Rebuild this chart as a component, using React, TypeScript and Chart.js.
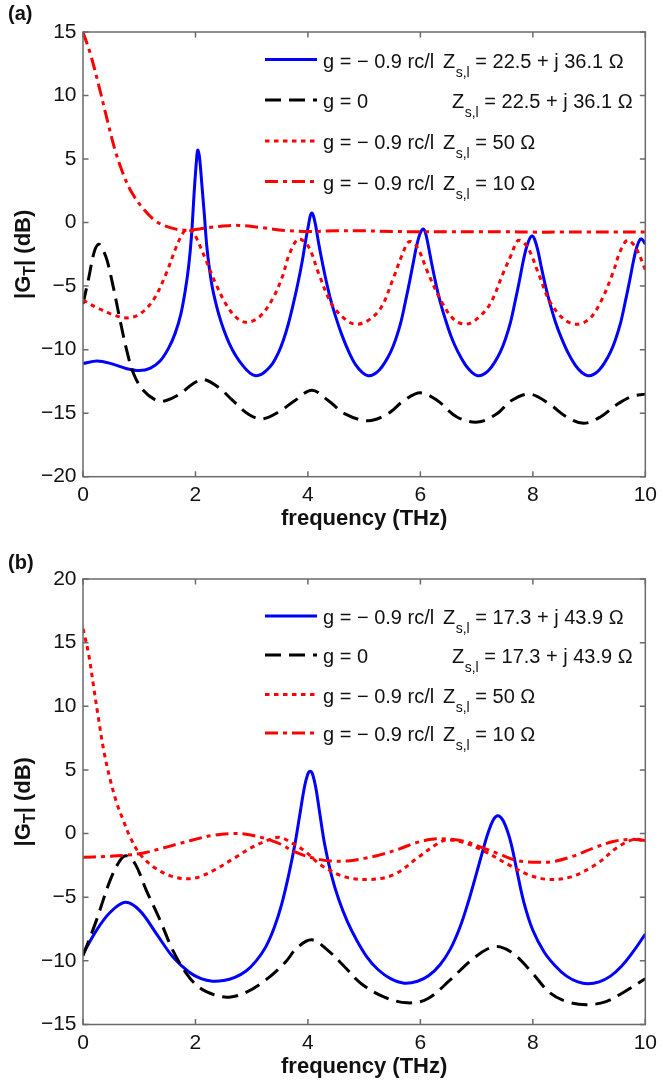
import React, { useEffect, useRef } from "react";
import { Chart, registerables } from "chart.js";

Chart.register(...registerables);

type Pt = [number, number];

// ---------- axis ticks ----------
const freqTicks = [0, 2, 4, 6, 8, 10];
const gainTicksA = [-20, -15, -10, -5, 0, 5, 10, 15];
const gainTicksB = [-15, -10, -5, 0, 5, 10, 15, 20];

// ---------- legend text ----------
const legendG = ["g = \u2212 0.9 rc/l", "g = 0", "g = \u2212 0.9 rc/l", "g = \u2212 0.9 rc/l"];
const legendZA = ["= 22.5 + j 36.1 \u03A9", "= 22.5 + j 36.1 \u03A9", "= 50 \u03A9", "= 10 \u03A9"];
const legendZB = ["= 17.3 + j 43.9 \u03A9", "= 17.3 + j 43.9 \u03A9", "= 50 \u03A9", "= 10 \u03A9"];

// ---------- panel (a) series : [frequency THz, |GT| dB] ----------
const blueA: Pt[] = [
  [0, -11.1], [0.25, -10.9], [0.5, -11.1], [0.78, -11.5], [1.0, -11.65], [1.2, -11.45], [1.37, -10.9],
  [1.52, -9.9], [1.64, -8.7], [1.74, -7.2], [1.82, -5.3], [1.88, -3.4], [1.93, -1.0], [1.98, 2.6],
  [2.02, 5.0], [2.04, 5.7], [2.07, 5.2], [2.11, 3.2], [2.16, 0.5], [2.2, -1.8], [2.25, -3.7], [2.3, -5.1],
  [2.36, -6.3], [2.42, -7.3], [2.5, -8.4], [2.6, -9.5], [2.72, -10.5], [2.85, -11.3], [2.97, -11.85],
  [3.07, -12.05], [3.17, -11.95], [3.27, -11.6], [3.37, -11.1], [3.47, -10.3], [3.56, -9.3], [3.65, -8.0],
  [3.74, -6.4], [3.83, -4.6], [3.9, -3.0], [3.96, -1.4], [4.01, -0.2], [4.04, 0.5], [4.07, 0.75],
  [4.1, 0.5], [4.14, -0.3], [4.19, -1.6], [4.25, -3.0], [4.32, -4.5], [4.4, -6.0], [4.5, -7.5],
  [4.6, -8.8], [4.72, -10.1], [4.85, -11.2], [4.97, -11.8], [5.07, -12.05], [5.17, -11.95], [5.27, -11.6],
  [5.37, -11.0], [5.47, -10.2], [5.56, -9.2], [5.65, -7.9], [5.73, -6.3], [5.81, -4.6], [5.88, -3.0],
  [5.94, -1.7], [6.0, -0.8], [6.05, -0.5], [6.09, -0.8], [6.14, -1.8], [6.2, -3.2], [6.27, -4.7],
  [6.35, -6.2], [6.45, -7.7], [6.55, -9.0], [6.67, -10.2], [6.8, -11.2], [6.92, -11.8], [7.02, -12.05],
  [7.12, -11.95], [7.22, -11.6], [7.32, -11.0], [7.42, -10.2], [7.51, -9.2], [7.6, -7.9], [7.68, -6.3],
  [7.76, -4.6], [7.83, -3.0], [7.89, -1.9], [7.95, -1.2], [7.99, -1.05], [8.03, -1.3], [8.09, -2.2],
  [8.15, -3.5], [8.22, -4.9], [8.3, -6.3], [8.4, -7.8], [8.5, -9.0], [8.62, -10.2], [8.75, -11.2],
  [8.87, -11.8], [8.98, -12.05], [9.08, -11.95], [9.18, -11.6], [9.28, -11.0], [9.38, -10.2], [9.47, -9.2],
  [9.56, -7.9], [9.64, -6.3], [9.72, -4.6], [9.79, -3.0], [9.85, -1.9], [9.91, -1.3], [9.95, -1.35],
  [10, -1.7],
];
const blackA: Pt[] = [
  [0, -6.4], [0.1, -4.4], [0.2, -2.3], [0.28, -1.7], [0.36, -2.2], [0.43, -3.0], [0.54, -5.1],
  [0.66, -7.7], [0.78, -10.1], [0.9, -11.9], [1.07, -13.2], [1.31, -14.0], [1.48, -14.0], [1.72, -13.5],
  [1.95, -12.7], [2.15, -12.35], [2.42, -13.0], [2.66, -14.0], [2.95, -15.1], [3.19, -15.45], [3.48, -14.9],
  [3.77, -14.0], [4.07, -13.2], [4.36, -14.0], [4.66, -15.05], [5.07, -15.6], [5.42, -15.05], [5.71, -14.0],
  [6.0, -13.4], [6.3, -14.0], [6.65, -15.3], [7.02, -15.7], [7.36, -15.05], [7.62, -14.0], [7.95, -13.5],
  [8.3, -14.3], [8.6, -15.3], [8.9, -15.8], [9.2, -15.3], [9.5, -14.3], [9.75, -13.7], [10, -13.5],
];
const dottedA: Pt[] = [
  [0, -6.1], [0.25, -6.7], [0.5, -7.2], [0.78, -7.5], [1.01, -7.2], [1.25, -6.1], [1.48, -4.0],
  [1.66, -1.9], [1.78, -0.8], [1.86, -0.55], [1.94, -0.7], [2.01, -1.15], [2.19, -3.0], [2.36, -4.8],
  [2.54, -6.4], [2.72, -7.45], [2.9, -7.85], [3.13, -7.45], [3.36, -6.1], [3.55, -4.2], [3.66, -2.6],
  [3.83, -1.3], [4.01, -1.9], [4.19, -4.0], [4.42, -6.4], [4.66, -7.6], [4.85, -8.0], [5.07, -7.7],
  [5.3, -6.7], [5.5, -4.6], [5.68, -2.5], [5.8, -1.5], [5.94, -1.9], [6.12, -3.8], [6.36, -6.1],
  [6.59, -7.6], [6.8, -8.0], [7.0, -7.6], [7.24, -6.4], [7.47, -4.0], [7.62, -2.5], [7.74, -1.4],
  [7.9, -1.9], [8.1, -4.0], [8.3, -6.2], [8.55, -7.6], [8.77, -8.0], [9.0, -7.6], [9.2, -6.3],
  [9.42, -4.0], [9.55, -2.3], [9.68, -1.4], [9.82, -1.9], [10, -3.7],
];
const dashDotA: Pt[] = [
  [0, 15], [0.13, 13.3], [0.28, 10.8], [0.43, 8.1], [0.57, 5.7], [0.7, 4.0], [0.85, 2.5], [1.05, 1.2],
  [1.3, 0.1], [1.55, -0.4], [1.8, -0.6], [2.07, -0.5], [2.42, -0.3], [2.78, -0.22], [3.13, -0.37],
  [3.6, -0.62], [4.0, -0.7], [4.5, -0.65], [5.0, -0.65], [5.5, -0.7], [6.0, -0.72], [6.5, -0.72],
  [7.0, -0.72], [7.5, -0.72], [8.0, -0.75], [8.5, -0.75], [9.0, -0.75], [9.5, -0.75], [10, -0.75],
];

// ---------- panel (b) series ----------
const blueB: Pt[] = [
  [0, -9.45], [0.24, -7.6], [0.48, -6.2], [0.75, -5.4], [1.01, -6.05], [1.31, -7.9], [1.6, -9.7],
  [1.89, -10.9], [2.1, -11.4], [2.3, -11.6], [2.5, -11.55], [2.7, -11.3], [2.9, -10.8], [3.08, -10.0],
  [3.25, -8.9], [3.4, -7.4], [3.53, -5.6], [3.66, -3.2], [3.77, -0.8], [3.86, 1.6], [3.94, 3.7],
  [4.0, 4.7], [4.04, 4.9], [4.08, 4.7], [4.14, 3.6], [4.21, 1.6], [4.3, -0.9], [4.42, -3.3],
  [4.55, -5.2], [4.7, -6.9], [4.87, -8.4], [5.05, -9.7], [5.25, -10.7], [5.47, -11.4], [5.71, -11.75],
  [5.95, -11.6], [6.15, -11.15], [6.35, -10.3], [6.53, -9.1], [6.7, -7.4], [6.85, -5.4], [6.98, -3.4],
  [7.1, -1.5], [7.2, 0.0], [7.3, 1.1], [7.38, 1.4], [7.46, 1.1], [7.54, 0.3], [7.62, -0.9],
  [7.72, -3.0], [7.84, -5.4], [8.0, -7.6], [8.2, -9.3], [8.4, -10.4], [8.6, -11.2], [8.8, -11.65],
  [8.98, -11.8], [9.18, -11.65], [9.38, -11.2], [9.58, -10.4], [9.78, -9.3], [10, -7.9],
];
const blackB: Pt[] = [
  [0, -9.6], [0.24, -6.8], [0.48, -3.7], [0.66, -2.1], [0.78, -1.75], [0.93, -2.4], [1.13, -4.5],
  [1.37, -6.8], [1.6, -9.2], [1.84, -11.0], [2.07, -12.1], [2.36, -12.7], [2.6, -12.85], [2.89, -12.5],
  [3.25, -11.5], [3.6, -10.1], [3.8, -9.0], [4.07, -8.35], [4.36, -9.2], [4.66, -10.5], [4.95, -11.8],
  [5.36, -12.85], [5.77, -13.3], [6.12, -13.0], [6.53, -11.5], [6.89, -10.0], [7.2, -9.05], [7.42, -8.9],
  [7.7, -9.6], [8.0, -11.0], [8.3, -12.5], [8.6, -13.2], [8.95, -13.45], [9.3, -13.2], [9.6, -12.5],
  [10, -11.4],
];
const dottedB: Pt[] = [
  [0, 16.1], [0.1, 14.1], [0.19, 11.5], [0.28, 8.9], [0.37, 6.5], [0.48, 4.3], [0.6, 2.4], [0.72, 1.0],
  [0.84, -0.3], [1.01, -1.6], [1.25, -2.6], [1.54, -3.3], [1.84, -3.55], [2.07, -3.4], [2.36, -2.8],
  [2.72, -1.85], [3.01, -1.07], [3.3, -0.5], [3.5, -0.3], [3.72, -0.75], [3.95, -1.4], [4.24, -2.5],
  [4.66, -3.4], [5.13, -3.6], [5.54, -3.2], [5.95, -1.9], [6.3, -0.8], [6.48, -0.5], [6.77, -0.7],
  [7.12, -1.35], [7.59, -2.5], [7.9, -3.2], [8.27, -3.6], [8.68, -3.4], [9.13, -2.4], [9.5, -1.1],
  [9.8, -0.45], [10, -0.6],
];
const dashDotB: Pt[] = [
  [0, -1.86], [0.4, -1.8], [0.78, -1.7], [1.1, -1.5], [1.37, -1.2], [1.7, -0.8], [1.95, -0.5],
  [2.3, -0.15], [2.65, 0.0], [2.9, -0.05], [3.25, -0.4], [3.5, -0.8], [3.75, -1.4], [4.07, -1.9],
  [4.4, -2.15], [4.7, -2.15], [5.0, -1.95], [5.3, -1.65], [5.63, -1.2], [5.9, -0.75], [6.2, -0.45],
  [6.45, -0.42], [6.77, -0.6], [7.1, -1.1], [7.4, -1.6], [7.7, -2.1], [8.0, -2.25], [8.35, -2.2],
  [8.7, -1.8], [9.1, -1.1], [9.45, -0.6], [9.75, -0.45], [10, -0.55],
];

// ---------- styles ----------
const STYLES = [
  { color: "#0000ff", dash: [] as number[] },
  { color: "#000000", dash: [16, 8] },
  { color: "#ff0000", dash: [4.5, 4.5] },
  { color: "#ff0000", dash: [13, 5, 4, 5] },
];

const FONT = "'Liberation Sans', Arial, Helvetica, sans-serif";
const W = 663;

type PanelProps = {
  top: number;
  height: number;
  label: string;
  labelBaseline: number;
  series: Pt[][];
  yMin: number;
  yMax: number;
  yTicks: number[];
  zText: string[];
  legendRows: number[];
  padTop: number;
  xAxisHeight: number;
};

function Panel(p: PanelProps) {
  const ref = useRef<HTMLCanvasElement>(null);

  useEffect(() => {
    const canvas = ref.current!;
    const decor = {
      id: "decor",
      afterDatasetsDraw(chart: any) {
        const { ctx, chartArea: a, scales } = chart;
        const xs = scales.x;
        const ys = scales.y;
        ctx.save();
        // frame + inward ticks
        ctx.setLineDash([]);
        ctx.strokeStyle = "#6b6b6b";
        ctx.lineWidth = 1.5;
        ctx.strokeRect(a.left, a.top, a.right - a.left, a.bottom - a.top);
        ctx.beginPath();
        for (const v of freqTicks) {
          const px = xs.getPixelForValue(v);
          ctx.moveTo(px, a.bottom);
          ctx.lineTo(px, a.bottom - 5.5);
          ctx.moveTo(px, a.top);
          ctx.lineTo(px, a.top + 5.5);
        }
        for (const v of p.yTicks) {
          const py = ys.getPixelForValue(v);
          ctx.moveTo(a.left, py);
          ctx.lineTo(a.left + 5.5, py);
          ctx.moveTo(a.right, py);
          ctx.lineTo(a.right - 5.5, py);
        }
        ctx.stroke();

        // legend
        ctx.textAlign = "left";
        ctx.textBaseline = "alphabetic";
        p.legendRows.forEach((ry, i) => {
          const st = STYLES[i];
          ctx.save();
          ctx.strokeStyle = st.color;
          ctx.lineWidth = 3;
          ctx.setLineDash(st.dash);
          ctx.beginPath();
          ctx.moveTo(265, ry);
          ctx.lineTo(317, ry);
          ctx.stroke();
          ctx.restore();
          ctx.fillStyle = "#111";
          ctx.font = `20px ${FONT}`;
          ctx.fillText(legendG[i], 323, ry + 8.4);
          const zx = i === 1 ? 452 : 443;
          ctx.fillText("Z", zx, ry + 8.4);
          const zw = ctx.measureText("Z").width;
          ctx.font = `14px ${FONT}`;
          ctx.fillText("s,l", zx + zw + 0.5, ry + 17);
          const sw = ctx.measureText("s,l").width;
          ctx.font = `20px ${FONT}`;
          ctx.fillText(" " + p.zText[i], zx + zw + 0.5 + sw, ry + 8.4);
        });

        // x title
        ctx.fillStyle = "#111";
        ctx.font = `bold 22px ${FONT}`;
        ctx.textAlign = "center";
        ctx.fillText("frequency (THz)", (a.left + a.right) / 2, a.bottom + 48.5);

        // y title (rotated, with subscript)
        ctx.save();
        const cy = (a.top + a.bottom) / 2;
        ctx.translate(30, cy);
        ctx.rotate(-Math.PI / 2);
        ctx.textAlign = "left";
        const big = `bold 22px ${FONT}`;
        const small = `bold 16px ${FONT}`;
        ctx.font = big;
        const w1 = ctx.measureText("|G").width;
        const w3 = ctx.measureText("| (dB)").width;
        ctx.font = small;
        const w2 = ctx.measureText("T").width;
        const total = w1 + w2 + w3;
        let x0 = -total / 2;
        ctx.font = big;
        ctx.fillText("|G", x0, 0);
        x0 += w1;
        ctx.font = small;
        ctx.fillText("T", x0, 5);
        x0 += w2;
        ctx.font = big;
        ctx.fillText("| (dB)", x0, 0);
        ctx.restore();

        // panel label
        ctx.textAlign = "left";
        ctx.font = `bold 20px ${FONT}`;
        ctx.fillText(p.label, 8, p.labelBaseline);
        ctx.restore();
      },
    };

    const chart = new Chart(canvas, {
      type: "line",
      data: {
        datasets: p.series.map((s, i) => ({
          data: s.map(([x, y]) => ({ x, y })),
          borderColor: STYLES[i].color,
          borderDash: STYLES[i].dash,
          borderWidth: 3,
          pointRadius: 0,
          fill: false,
          tension: 0.35,
          order: 4 - i,
        })),
      },
      options: {
        animation: false,
        responsive: false,
        maintainAspectRatio: false,
        events: [],
        layout: { padding: { top: p.padTop, right: 13, left: 0, bottom: 0 } },
        plugins: { legend: { display: false }, tooltip: { enabled: false } },
        scales: {
          x: {
            type: "linear",
            min: 0,
            max: 10,
            afterBuildTicks: (s: any) => {
              s.ticks = freqTicks.map((v) => ({ value: v }));
            },
            afterFit: (s: any) => {
              s.height = p.xAxisHeight;
            },
            grid: { display: false, drawTicks: false },
            border: { display: false },
            ticks: {
              autoSkip: false,
              maxRotation: 0,
              padding: 6,
              color: "#111",
              font: { family: FONT, size: 21 },
              callback: (v: any) => String(v),
            },
          },
          y: {
            type: "linear",
            min: p.yMin,
            max: p.yMax,
            afterBuildTicks: (s: any) => {
              s.ticks = p.yTicks.map((v) => ({ value: v }));
            },
            afterFit: (s: any) => {
              s.width = 83;
            },
            grid: { display: false, drawTicks: false },
            border: { display: false },
            ticks: {
              autoSkip: false,
              padding: 6.5,
              color: "#111",
              font: { family: FONT, size: 21 },
              callback: (v: any) => String(v).replace("-", "\u2212"),
            },
          },
        },
      },
      plugins: [decor],
    } as any);
    return () => chart.destroy();
  }, []);

  return (
    <canvas
      ref={ref}
      width={W}
      height={p.height}
      style={{ position: "absolute", left: 0, top: p.top, width: W, height: p.height, display: "block" }}
    />
  );
}

export default function App() {
  return (
    <div style={{ position: "absolute", left: 0, top: 0, width: W, height: 1082, background: "#fff" }}>
      <Panel
        top={0}
        height={541}
        label="(a)"
        labelBaseline={20}
        series={[blueA, blackA, dottedA, dashDotA]}
        yMin={-20}
        yMax={15}
        yTicks={gainTicksA}
        zText={legendZA}
        legendRows={[59.5, 100, 141, 181.5]}
        padTop={32}
        xAxisHeight={64.3}
      />
      <Panel
        top={541}
        height={541}
        label="(b)"
        labelBaseline={27.5}
        series={[blueB, blackB, dottedB, dashDotB]}
        yMin={-15}
        yMax={20}
        yTicks={gainTicksB}
        zText={legendZB}
        legendRows={[75, 114, 153.5, 192]}
        padTop={38}
        xAxisHeight={57.5}
      />
    </div>
  );
}
